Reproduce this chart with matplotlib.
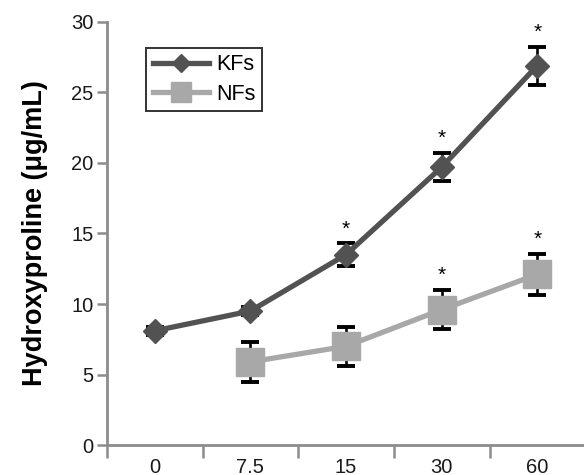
import matplotlib
matplotlib.use("Agg")
import matplotlib.pyplot as plt
from matplotlib.lines import Line2D
import numpy as np

plt.rcParams['font.family'] = ['Liberation Sans', 'DejaVu Sans']

categories = ["0", "7.5", "15", "30", "60"]
kfs_values = [8.1, 9.5, 13.5, 19.7, 26.9]
kfs_errors = [0.3, 0.3, 0.8, 1.0, 1.35]
kfs_signif = [False, False, True, True, True]
nfs_values = [None, 5.9, 7.0, 9.6, 12.1]
nfs_errors = [None, 1.4, 1.4, 1.4, 1.45]
nfs_signif = [False, False, False, True, True]

kfs_color = "#525252"
nfs_color = "#a8a8a8"

fig = plt.figure(figsize=(5.84, 4.75), dpi=100)
ax = fig.add_axes([0.183, 0.063, 0.819, 0.891])

x = np.arange(len(categories))

# KFs
ax.errorbar(x, kfs_values, yerr=kfs_errors, fmt='none', ecolor='black',
            elinewidth=1.9, capsize=6.5, capthick=2.8, zorder=2)
ax.plot(x, kfs_values, color=kfs_color, lw=3.8, marker='D', ms=12.5,
        mfc=kfs_color, mec=kfs_color, zorder=4)

# NFs
nx = [xi for xi, v in zip(x, nfs_values) if v is not None]
nv = [v for v in nfs_values if v is not None]
ne = [e for e in nfs_errors if e is not None]
ax.errorbar(nx, nv, yerr=ne, fmt='none', ecolor='black',
            elinewidth=1.9, capsize=6.5, capthick=2.8, zorder=2)
ax.plot(nx, nv, color=nfs_color, lw=3.8, marker='s', ms=19.5,
        mfc=nfs_color, mec=nfs_color, zorder=3)

# significance asterisks
for xi, v, e, s in zip(x, kfs_values, kfs_errors, kfs_signif):
    if s:
        ax.text(xi, v + e + 0.35, "*", ha='center', va='bottom', fontsize=15, color='black')
for xi, v, e, s in zip(x, nfs_values, nfs_errors, nfs_signif):
    if s:
        ax.text(xi, v + e + 0.35, "*", ha='center', va='bottom', fontsize=15, color='black')

ax.set_xlim(-0.5, len(categories) - 0.5)
ax.set_ylim(0, 30)
ax.set_yticks([0, 5, 10, 15, 20, 25, 30])
ax.set_xticks(x)
ax.set_xticklabels(categories)
ax.set_xticks(np.arange(-0.5, len(categories), 1.0), minor=True)

for sp in ['top', 'right']:
    ax.spines[sp].set_visible(False)
for sp in ['left', 'bottom']:
    ax.spines[sp].set_color('#8c8c8c')
    ax.spines[sp].set_linewidth(2.0)

ax.tick_params(axis='y', direction='out', length=7.5, width=1.8, color='#8c8c8c',
               labelsize=14.5, pad=2, labelcolor='#1a1a1a')
ax.tick_params(axis='x', which='major', length=0, labelsize=14.5, pad=9, labelcolor='#1a1a1a')
ax.tick_params(axis='x', which='minor', direction='out', length=9, width=1.8, color='#8c8c8c')

ax.set_ylabel("Hydroxyproline (μg/mL)", fontsize=19.5, fontweight='bold', labelpad=17)

handles = [
    Line2D([0], [0], color=kfs_color, lw=3.8, marker='D', ms=9, mfc=kfs_color, mec=kfs_color),
    Line2D([0], [0], color=nfs_color, lw=3.8, marker='s', ms=14, mfc=nfs_color, mec=nfs_color),
]
leg = ax.legend(handles, ["KFs", "NFs"], loc='upper left', bbox_to_anchor=(0.082, 0.939),
                borderaxespad=0, fontsize=15.5, frameon=True, fancybox=False,
                edgecolor='black', handlelength=2.6, labelspacing=0.4,
                handletextpad=0.35, borderpad=0.3)
leg.get_frame().set_linewidth(1.4)

fig.savefig("out.png", dpi=100)
